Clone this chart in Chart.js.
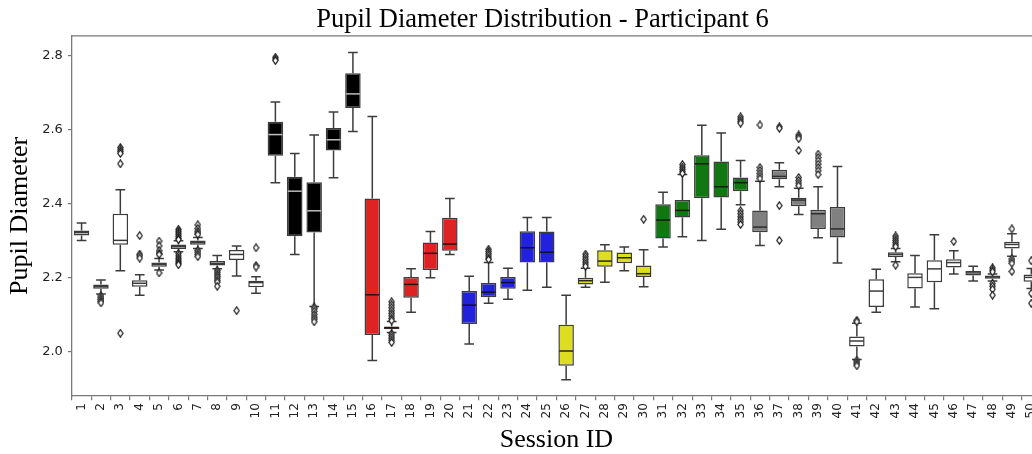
<!DOCTYPE html>
<html lang="en">
<head>
    <meta charset="UTF-8">
    <title>Pupil Diameter Distribution - Participant 6</title>
    <script src="https://cdn.jsdelivr.net/npm/chart.js"></script>
    <style>
        html, body {
            margin: 0;
            padding: 0;
            background: #ffffff;
            overflow: hidden;
        }
        .chart-box {
            width: 1084px;
            height: 454px;
        }
    </style>
</head>
<body>
    <div class="chart-box">
        <canvas id="myChart"></canvas>
    </div>

    <script>
        // session ids (x tick labels)
        const sessions = Array.from({length: 50}, (_, i) => String(i + 1));

        // condition group of each session (decides box colour)
        const groups = [
            'none','none','none','none','none','none','none','none','none','none',
            'black','black','black','black','black',
            'red','red','red','red','red',
            'blue','blue','blue','blue','blue',
            'yellow','yellow','yellow','yellow','yellow',
            'green','green','green','green','green',
            'gray','gray','gray','gray','gray',
            'none','none','none','none','none','none','none','none','none','none'
        ];

        const whiskerLow = [
            2.300, 2.155, 2.218, 2.152, 2.220, 2.269, 2.278, 2.223, 2.204, 2.157,
            2.456, 2.262, 2.121, 2.469, 2.594, 1.975, 2.051, 2.106, 2.199, 2.262,
            2.020, 2.130, 2.141, 2.165, 2.173, 1.923, 2.173, 2.187, 2.218, 2.175,
            2.282, 2.310, 2.300, 2.330, 2.396, 2.286, 2.445, 2.370, 2.307, 2.239,
            1.978, 2.106, 2.242, 2.120, 2.115, 2.209, 2.190, 2.190, 2.257, 2.170
        ];
        const q1 = [
            2.313, 2.169, 2.288, 2.175, 2.229, 2.277, 2.288, 2.232, 2.247, 2.173,
            2.529, 2.311, 2.321, 2.543, 2.658, 2.044, 2.060, 2.145, 2.220, 2.272,
            2.074, 2.146, 2.169, 2.240, 2.240, 1.961, 2.181, 2.229, 2.238, 2.201,
            2.305, 2.362, 2.414, 2.416, 2.433, 2.322, 2.465, 2.392, 2.331, 2.308,
            2.013, 2.120, 2.255, 2.170, 2.187, 2.227, 2.205, 2.196, 2.278, 2.188
        ];
        const medians = [
            2.321, 2.175, 2.300, 2.184, 2.235, 2.283, 2.294, 2.238, 2.262, 2.186,
            2.586, 2.433, 2.380, 2.572, 2.696, 2.153, 2.064, 2.181, 2.265, 2.290,
            2.125, 2.160, 2.186, 2.280, 2.268, 2.001, 2.191, 2.244, 2.253, 2.210,
            2.355, 2.381, 2.507, 2.445, 2.456, 2.336, 2.473, 2.409, 2.372, 2.331,
            2.028, 2.163, 2.262, 2.200, 2.223, 2.240, 2.212, 2.201, 2.289, 2.200
        ];
        const q3 = [
            2.327, 2.181, 2.372, 2.192, 2.240, 2.289, 2.300, 2.244, 2.274, 2.191,
            2.621, 2.472, 2.457, 2.604, 2.752, 2.413, 2.067, 2.201, 2.294, 2.361,
            2.163, 2.185, 2.201, 2.325, 2.324, 2.072, 2.199, 2.273, 2.267, 2.232,
            2.398, 2.409, 2.530, 2.513, 2.470, 2.381, 2.491, 2.415, 2.383, 2.390,
            2.040, 2.195, 2.268, 2.211, 2.246, 2.249, 2.217, 2.205, 2.296, 2.208
        ];
        const whiskerHigh = [
            2.347, 2.193, 2.437, 2.207, 2.251, 2.299, 2.308, 2.259, 2.285, 2.202,
            2.674, 2.535, 2.585, 2.647, 2.808, 2.635, 2.081, 2.223, 2.324, 2.413,
            2.203, 2.240, 2.225, 2.362, 2.362, 2.152, 2.225, 2.288, 2.282, 2.275,
            2.430, 2.478, 2.611, 2.590, 2.516, 2.460, 2.510, 2.441, 2.445, 2.500,
            2.076, 2.222, 2.278, 2.259, 2.315, 2.272, 2.230, 2.209, 2.318, 2.224
        ];
        // outliers per session
        const outliers = [
            [],
            [2.150, 2.145, 2.140, 2.135, 2.131],
            [2.551, 2.545, 2.540, 2.535, 2.507, 2.049],
            [2.313, 2.263, 2.258, 2.252],
            [2.298, 2.285, 2.272, 2.265, 2.262, 2.212],
            [2.330, 2.325, 2.320, 2.315, 2.310, 2.305, 2.302, 2.265, 2.258, 2.252, 2.247, 2.242, 2.238, 2.234],
            [2.342, 2.332, 2.325, 2.320, 2.316, 2.273, 2.268, 2.262, 2.256],
            [2.219, 2.214, 2.208, 2.203, 2.198, 2.192, 2.187, 2.176],
            [2.110],
            [2.280, 2.232, 2.228],
            [2.795, 2.790, 2.786],
            [],
            [2.120, 2.115, 2.108, 2.100, 2.093, 2.087, 2.080],
            [],
            [],
            [],
            [2.134, 2.126, 2.118, 2.110, 2.103, 2.096, 2.089, 2.083, 2.048, 2.042, 2.036, 2.030, 2.024],
            [],
            [],
            [],
            [],
            [2.276, 2.270, 2.264, 2.258, 2.252, 2.248],
            [],
            [],
            [],
            [],
            [2.263, 2.256, 2.249, 2.242, 2.236, 2.230],
            [],
            [],
            [2.357],
            [],
            [2.505, 2.498, 2.492, 2.486, 2.481],
            [],
            [],
            [2.634, 2.628, 2.622, 2.617, 2.380, 2.372, 2.364, 2.357, 2.350, 2.343],
            [2.612, 2.497, 2.489, 2.481, 2.474, 2.467],
            [2.607, 2.603, 2.394, 2.300],
            [2.585, 2.580, 2.575, 2.543, 2.470, 2.462, 2.455, 2.448],
            [2.533, 2.524, 2.515, 2.506, 2.497, 2.488, 2.478],
            [],
            [2.084, 2.080, 1.976, 1.971, 1.966, 1.961],
            [],
            [2.312, 2.306, 2.300, 2.294, 2.288, 2.283, 2.233],
            [],
            [],
            [2.297],
            [],
            [2.226, 2.220, 2.215, 2.183, 2.176, 2.168, 2.152],
            [2.331, 2.250, 2.244, 2.238, 2.216],
            [2.245, 2.157, 2.130]
        ];
        const yTicks = [2.0, 2.2, 2.4, 2.6, 2.8];

        // styles
        const fillColors = {
            none: '#ffffff', black: '#000000', red: '#df2222', blue: '#2222dd',
            yellow: '#dddd22', green: '#117711', gray: '#808080'
        };
        const medianColors = {
            none: '#3c3c3c', black: '#bdbdbd', red: '#2a1010', blue: '#101030',
            yellow: '#2a2a10', green: '#0e1e0e', gray: '#2e2e2e'
        };
        const edgeColor = '#3c3c3c';
        const spineColor = '#7a7a7a';

        // thin diamond marker like matplotlib 'd'
        function makeDiamond() {
            const c = document.createElement('canvas');
            c.width = 7;
            c.height = 9;
            const g = c.getContext('2d');
            g.beginPath();
            g.moveTo(3.5, 0.8);
            g.lineTo(6.1, 4.5);
            g.lineTo(3.5, 8.2);
            g.lineTo(0.9, 4.5);
            g.closePath();
            g.fillStyle = '#ffffff';
            g.fill();
            g.lineWidth = 1.2;
            g.strokeStyle = '#1a1a1a';
            g.stroke();
            return c;
        }

        const outlierPoints = [];
        outliers.forEach((list, i) => {
            list.forEach(v => outlierPoints.push({x: sessions[i], y: v}));
        });

        // whiskers, caps and medians drawn with the chart's scales
        const boxParts = {
            id: 'boxParts',
            beforeDatasetsDraw(chart) {
                const xs = chart.scales.x, ys = chart.scales.y;
                const ctx = chart.ctx;
                const cat = xs.getPixelForValue(1) - xs.getPixelForValue(0);
                const cap = cat * 0.25;
                ctx.save();
                ctx.strokeStyle = edgeColor;
                ctx.lineWidth = 1.5;
                sessions.forEach((s, i) => {
                    const x = xs.getPixelForValue(i);
                    const yTop = ys.getPixelForValue(whiskerHigh[i]);
                    const yQ3 = ys.getPixelForValue(q3[i]);
                    const yQ1 = ys.getPixelForValue(q1[i]);
                    const yBot = ys.getPixelForValue(whiskerLow[i]);
                    ctx.beginPath();
                    ctx.moveTo(x, yQ3); ctx.lineTo(x, yTop);
                    ctx.moveTo(x - cap, yTop); ctx.lineTo(x + cap, yTop);
                    ctx.moveTo(x, yQ1); ctx.lineTo(x, yBot);
                    ctx.moveTo(x - cap, yBot); ctx.lineTo(x + cap, yBot);
                    ctx.stroke();
                });
                ctx.restore();
            },
            afterDatasetDraw(chart, args) {
                if (args.index !== 0) return;
                const xs = chart.scales.x, ys = chart.scales.y;
                const ctx = chart.ctx;
                const cat = xs.getPixelForValue(1) - xs.getPixelForValue(0);
                const half = cat * 0.4 - 0.8;
                ctx.save();
                ctx.lineWidth = 1.5;
                sessions.forEach((s, i) => {
                    const x = xs.getPixelForValue(i);
                    const y = ys.getPixelForValue(medians[i]);
                    ctx.strokeStyle = medianColors[groups[i]];
                    ctx.beginPath();
                    ctx.moveTo(x - half, y);
                    ctx.lineTo(x + half, y);
                    ctx.stroke();
                });
                ctx.restore();
            },
            afterDraw(chart) {
                const a = chart.chartArea;
                const ctx = chart.ctx;
                ctx.save();
                ctx.strokeStyle = spineColor;
                ctx.lineWidth = 1.3;
                ctx.beginPath();
                ctx.moveTo(a.left, a.top);
                ctx.lineTo(a.right, a.top);
                ctx.lineTo(a.right, a.bottom);
                ctx.stroke();
                ctx.restore();
            }
        };

        const ctx = document.getElementById('myChart').getContext('2d');
        const myChart = new Chart(ctx, {
            type: 'bar',
            data: {
                labels: sessions,
                datasets: [{
                    label: 'IQR',
                    data: sessions.map((s, i) => [q1[i], q3[i]]),
                    backgroundColor: groups.map(g => fillColors[g]),
                    borderColor: edgeColor,
                    borderWidth: 1.5,
                    borderSkipped: false,
                    barPercentage: 0.8,
                    categoryPercentage: 1.0
                }, {
                    type: 'line',
                    label: 'Outliers',
                    data: outlierPoints,
                    showLine: false,
                    pointStyle: makeDiamond(),
                    pointRadius: 4
                }]
            },
            options: {
                responsive: true,
                maintainAspectRatio: false,
                animation: false,
                layout: { padding: { left: 1, top: 0, bottom: 0, right: 0 } },
                plugins: {
                    legend: { display: false },
                    tooltip: { enabled: false },
                    title: {
                        display: true,
                        text: 'Pupil Diameter Distribution - Participant 6',
                        color: '#000',
                        font: { family: 'Liberation Serif', size: 26.5, weight: 'normal', lineHeight: 1.2 },
                        padding: { top: 4, bottom: 0 }
                    }
                },
                scales: {
                    x: {
                        type: 'category',
                        offset: true,
                        grid: { display: true, drawOnChartArea: false, drawTicks: true, tickLength: 4, color: spineColor, lineWidth: 1.2 },
                        border: { display: true, color: spineColor, width: 1.3 },
                        ticks: {
                            color: '#222',
                            font: { family: 'DejaVu Sans', size: 12 },
                            minRotation: 90,
                            maxRotation: 90,
                            autoSkip: false,
                            padding: 3
                        },
                        title: {
                            display: true,
                            text: 'Session ID',
                            color: '#000',
                            font: { family: 'Liberation Serif', size: 26, lineHeight: 1.1 },
                            padding: { top: 4, bottom: 0 }
                        }
                    },
                    y: {
                        type: 'linear',
                        min: 1.879,
                        max: 2.853,
                        afterBuildTicks: axis => { axis.ticks = yTicks.map(v => ({ value: v })); },
                        grid: { display: true, drawOnChartArea: false, drawTicks: true, tickLength: 4, color: spineColor, lineWidth: 1.2 },
                        border: { display: true, color: spineColor, width: 1.3 },
                        ticks: {
                            color: '#222',
                            font: { family: 'DejaVu Sans', size: 13 },
                            padding: 5,
                            callback: v => Number(v).toFixed(1)
                        },
                        title: {
                            display: true,
                            text: 'Pupil Diameter',
                            color: '#000',
                            font: { family: 'Liberation Serif', size: 26, lineHeight: 1.2 },
                            padding: { top: 4, bottom: 1 }
                        }
                    },
                    yRight: {
                        type: 'linear',
                        position: 'right',
                        display: true,
                        grid: { display: false },
                        border: { display: false },
                        ticks: { display: false },
                        afterFit: s => { s.width = 43; }
                    }
                }
            },
            plugins: [boxParts]
        });
    </script>
</body>
</html>
